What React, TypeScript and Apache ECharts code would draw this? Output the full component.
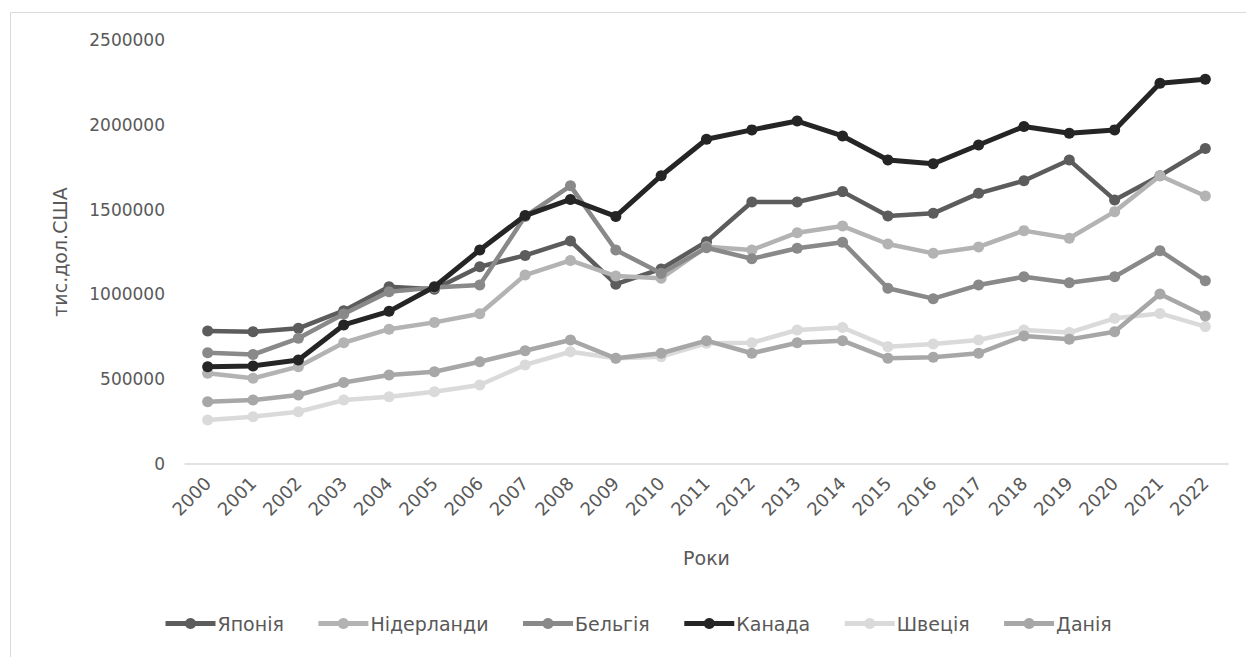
import React, { useEffect, useRef } from "react";
import * as echarts from "echarts";

const years = ["2000","2001","2002","2003","2004","2005","2006","2007","2008","2009","2010","2011","2012","2013","2014","2015","2016","2017","2018","2019","2020","2021","2022"];

const japan = [784000, 780000, 800000, 904000, 1045000, 1030000, 1163000, 1230000, 1315000, 1060000, 1150000, 1311000, 1545000, 1545000, 1606000, 1462000, 1478000, 1596000, 1670000, 1792000, 1557000, 1700000, 1860000];
const netherlands = [535000, 505000, 574000, 715000, 795000, 835000, 886000, 1114000, 1200000, 1108000, 1095000, 1281000, 1262000, 1364000, 1403000, 1297000, 1242000, 1280000, 1376000, 1331000, 1488000, 1700000, 1580000];
const belgium = [656000, 645000, 741000, 884000, 1016000, 1040000, 1055000, 1460000, 1640000, 1262000, 1124000, 1275000, 1210000, 1272000, 1308000, 1036000, 975000, 1055000, 1104000, 1069000, 1104000, 1258000, 1081000];
const canada = [574000, 578000, 613000, 820000, 900000, 1045000, 1262000, 1465000, 1560000, 1460000, 1700000, 1915000, 1970000, 2022000, 1934000, 1792000, 1770000, 1881000, 1990000, 1950000, 1970000, 2245000, 2268000];
const sweden = [259000, 279000, 308000, 377000, 397000, 426000, 466000, 584000, 662000, 623000, 633000, 712000, 715000, 790000, 805000, 692000, 708000, 731000, 790000, 775000, 859000, 888000, 810000];
const denmark = [367000, 377000, 407000, 480000, 525000, 544000, 603000, 668000, 731000, 623000, 653000, 727000, 653000, 715000, 727000, 623000, 629000, 653000, 755000, 735000, 780000, 1002000, 873000];

const seriesNames = ["Японія", "Нідерланди", "Бельгія", "Канада", "Швеція", "Данія"];
const seriesData = [japan, netherlands, belgium, canada, sweden, denmark];
const seriesColors = ["#5c5c5c", "#b3b3b3", "#898989", "#252525", "#dadada", "#a7a7a7"];

const yTicks = [0, 500000, 1000000, 1500000, 2000000, 2500000];

export default function App() {
  const ref = useRef<HTMLDivElement>(null);
  useEffect(() => {
    if (!ref.current) return;
    const chart = echarts.init(ref.current, null, { renderer: "svg" });
    chart.setOption({
      animation: false,
      backgroundColor: "#ffffff",
      graphic: [
        {
          type: "rect",
          shape: { x: 10.5, y: 12.5, width: 1400, height: 800 },
          style: { fill: "none", stroke: "#d9d9d9", lineWidth: 1 },
          silent: true,
          z: -1,
        },
      ],
      grid: { left: 185, right: 18, top: 40, bottom: 193, containLabel: false },
      xAxis: {
        type: "category",
        data: years,
        boundaryGap: true,
        axisLine: { show: true, lineStyle: { color: "#d9d9d9", width: 1.5 } },
        axisTick: { show: false },
        axisLabel: {
          rotate: 45,
          margin: 16,
          color: "#595959",
          fontFamily: "DejaVu Sans",
          fontSize: 18,
          interval: 0,
        },
        name: "Роки",
        nameLocation: "middle",
        nameGap: 84,
        nameTextStyle: { color: "#595959", fontFamily: "DejaVu Sans", fontSize: 19 },
      },
      yAxis: {
        type: "value",
        min: yTicks[0],
        max: yTicks[yTicks.length - 1],
        interval: yTicks[1] - yTicks[0],
        axisLine: { show: false },
        axisTick: { show: false },
        splitLine: { show: false },
        axisLabel: {
          color: "#595959",
          fontFamily: "DejaVu Sans",
          fontSize: 17,
          margin: 20,
          formatter: (v: number) => String(v),
        },
        name: "тис.дол.США",
        nameLocation: "middle",
        nameGap: 116,
        nameTextStyle: { color: "#595959", fontFamily: "DejaVu Sans", fontSize: 19 },
      },
      legend: {
        bottom: 19,
        left: 158,
        itemWidth: 50,
        itemHeight: 14,
        itemGap: 32,
        lineStyle: { width: 5 },
        textStyle: { color: "#595959", fontFamily: "DejaVu Sans", fontSize: 19, padding: [0, 0, 0, -3] },
        data: seriesNames,
      },
      series: seriesNames.map((name, i) => ({
        name,
        type: "line",
        data: seriesData[i],
        symbol: "circle",
        symbolSize: 11,
        color: seriesColors[i],
        lineStyle: { color: seriesColors[i], width: i === 3 ? 5 : 4.5 },
        itemStyle: { color: seriesColors[i] },
        z: 2 + i,
      })),
    });
    return () => chart.dispose();
  }, []);
  return (
    <div
      ref={ref}
      style={{ position: "fixed", left: 0, top: 0, width: 1246, height: 657, background: "#fff" }}
    />
  );
}
